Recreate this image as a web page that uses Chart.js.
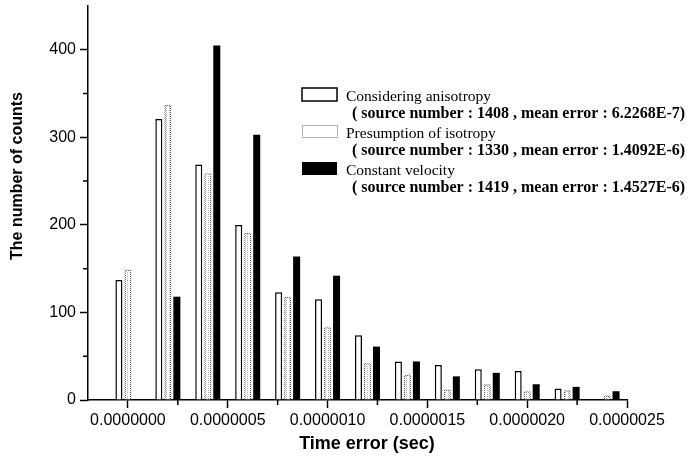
<!DOCTYPE html>
<html>
<head>
<meta charset="utf-8">
<script src="https://cdn.jsdelivr.net/npm/chart.js@4.4.0/dist/chart.umd.min.js"></script>
<style>
  html, body { margin: 0; padding: 0; background: #fff; }
  #wrap { width: 697px; height: 458px; }
</style>
</head>
<body>
<div id="wrap"><canvas id="myChart"></canvas></div>
<script>
// bin centres (sec) and counts
const binCenters = [0, 2e-7, 4e-7, 6e-7, 8e-7, 1e-6, 1.2e-6, 1.4e-6, 1.6e-6, 1.8e-6, 2e-6, 2.2e-6, 2.4e-6];
const anisotropy = [137, 321, 269, 200, 123, 115, 74, 44, 40, 35, 33, 13, 0];
const isotropy = [149, 337, 259, 191, 118, 83, 42, 29, 12, 18, 10, 11, 5];
const constantVel = [0, 118, 405, 303, 164, 142, 61, 44, 27, 31, 18, 15, 10];

const seriesNames = ["Considering anisotropy", "Presumption of isotropy", "Constant velocity"];
const seriesNotes = [
  "( source number : 1408 , mean error : 6.2268E-7)",
  "( source number : 1330 , mean error : 1.4092E-6)",
  "( source number : 1419 , mean error : 1.4527E-6)"
];

const xTicks = [0, 5e-7, 1e-6, 1.5e-6, 2e-6, 2.5e-6];
const xMinorTicks = [2.5e-7, 7.5e-7, 1.25e-6, 1.75e-6, 2.25e-6];
const yTicks = [0, 100, 200, 300, 400];
const yMinorTicks = [50, 150, 250, 350];

const ctx = document.getElementById("myChart").getContext("2d");

function makePattern(w, h, draw) {
  const c = document.createElement("canvas");
  c.width = w;
  c.height = h;
  const g = c.getContext("2d");
  draw(g);
  return ctx.createPattern(c, "repeat");
}

const dotFill = makePattern(3, 2, function (g) {
  g.fillStyle = "#fff";
  g.fillRect(0, 0, 3, 2);
  g.fillStyle = "#b4b4b4";
  g.fillRect(1, 0, 1, 1);
});
const dotBorder = makePattern(2, 2, function (g) {
  g.fillStyle = "#fff";
  g.fillRect(0, 0, 2, 2);
  g.fillStyle = "#555";
  g.fillRect(0, 0, 1, 1);
  g.fillRect(1, 1, 1, 1);
});

function points(values) {
  return binCenters.map(function (x, i) {
    return { x: x, y: values[i] };
  });
}

const minorTicks = {
  id: "minorTicks",
  afterDraw(chart) {
    const c = chart.ctx;
    const xs = chart.scales.x;
    const ys = chart.scales.y;
    c.save();
    c.strokeStyle = "#000";
    c.lineWidth = 1.5;
    c.beginPath();
    xMinorTicks.forEach(function (v) {
      const px = xs.getPixelForValue(v);
      c.moveTo(px, xs.top);
      c.lineTo(px, xs.top + 5);
    });
    yMinorTicks.forEach(function (v) {
      const py = ys.getPixelForValue(v);
      c.moveTo(ys.right, py);
      c.lineTo(ys.right - 5, py);
    });
    c.stroke();
    c.restore();
  }
};

const titles = {
  id: "titles",
  afterDraw(chart) {
    const c = chart.ctx;
    c.save();
    c.fillStyle = "#000";
    c.textAlign = "center";
    c.textBaseline = "middle";
    c.font = "bold 18px 'Liberation Sans', Arial, sans-serif";
    c.fillText("Time error (sec)", 367, 444);
    c.translate(18, 176);
    c.rotate(-Math.PI / 2);
    c.font = "bold 16px 'Liberation Sans', Arial, sans-serif";
    c.fillText("The number of counts", 0, 0);
    c.restore();
  }
};

const legendBox = {
  id: "legendBox",
  afterDraw(chart) {
    const c = chart.ctx;
    c.save();
    for (let i = 0; i < 3; i++) {
      const top = 88 + i * 37;
      if (i === 0) {
        c.fillStyle = "#fff";
        c.fillRect(302, top, 35, 13);
        c.strokeStyle = "#000";
        c.lineWidth = 1.5;
        c.strokeRect(302, top, 35, 13);
      } else if (i === 1) {
        c.fillStyle = "#fff";
        c.fillRect(302, top, 35, 13);
        c.strokeStyle = "#666";
        c.lineWidth = 1;
        c.setLineDash([1, 1]);
        c.strokeRect(302.5, top + 0.5, 35, 12);
        c.setLineDash([]);
      } else {
        c.fillStyle = "#000";
        c.fillRect(302, top, 35, 13);
      }
      c.fillStyle = "#000";
      c.textAlign = "left";
      c.textBaseline = "alphabetic";
      c.font = "15.5px 'Liberation Serif', 'Times New Roman', serif";
      c.fillText(seriesNames[i], 346, top + 12.5);
      c.font = "bold 16px 'Liberation Serif', 'Times New Roman', serif";
      c.fillText(seriesNotes[i], 352, top + 30);
    }
    c.restore();
  }
};

new Chart(ctx, {
  type: "bar",
  data: {
    datasets: [
      {
        label: seriesNames[0],
        data: points(anisotropy),
        backgroundColor: "#fff",
        borderColor: "#000",
        borderWidth: 1.5
      },
      {
        label: seriesNames[1],
        data: points(isotropy),
        backgroundColor: dotFill,
        borderColor: dotBorder,
        borderWidth: 1.5
      },
      {
        label: seriesNames[2],
        data: points(constantVel),
        backgroundColor: "#000",
        borderColor: "#000",
        borderWidth: 0
      }
    ]
  },
  options: {
    responsive: true,
    maintainAspectRatio: false,
    animation: false,
    categoryPercentage: 0.677,
    barPercentage: 0.78,
    layout: { padding: { top: 6, right: 70, left: 0, bottom: 0 } },
    plugins: {
      legend: { display: false },
      tooltip: { enabled: false }
    },
    scales: {
      x: {
        type: "linear",
        min: -2e-7,
        max: 2.5e-6,
        offset: false,
        afterBuildTicks: function (axis) {
          axis.ticks = xTicks.map(function (v) { return { value: v }; });
        },
        afterFit: function (axis) { axis.height = 58; },
        grid: {
          display: true,
          drawOnChartArea: false,
          offset: false,
          tickLength: 8,
          tickColor: "#000",
          tickWidth: 1.5
        },
        border: { display: true, color: "#000", width: 1.5 },
        ticks: {
          color: "#000",
          padding: 3,
          maxRotation: 0,
          autoSkip: false,
          font: { family: "'Liberation Sans', Arial, sans-serif", size: 16 },
          callback: function (v) { return Number(v).toFixed(7); }
        }
      },
      y: {
        min: 0,
        max: 450,
        afterBuildTicks: function (axis) {
          axis.ticks = yTicks.map(function (v) { return { value: v }; });
        },
        afterFit: function (axis) {
          axis.width = 88;
          axis.paddingTop = 0;
          axis.paddingBottom = 0;
        },
        grid: {
          display: true,
          drawOnChartArea: false,
          tickLength: 8,
          tickColor: "#000",
          tickWidth: 1.5
        },
        border: { display: true, color: "#000", width: 1.5 },
        ticks: {
          color: "#000",
          padding: 4,
          font: { family: "'Liberation Sans', Arial, sans-serif", size: 16 },
          callback: function (v) { return String(v); }
        }
      }
    }
  },
  plugins: [minorTicks, titles, legendBox]
});
</script>
</body>
</html>
